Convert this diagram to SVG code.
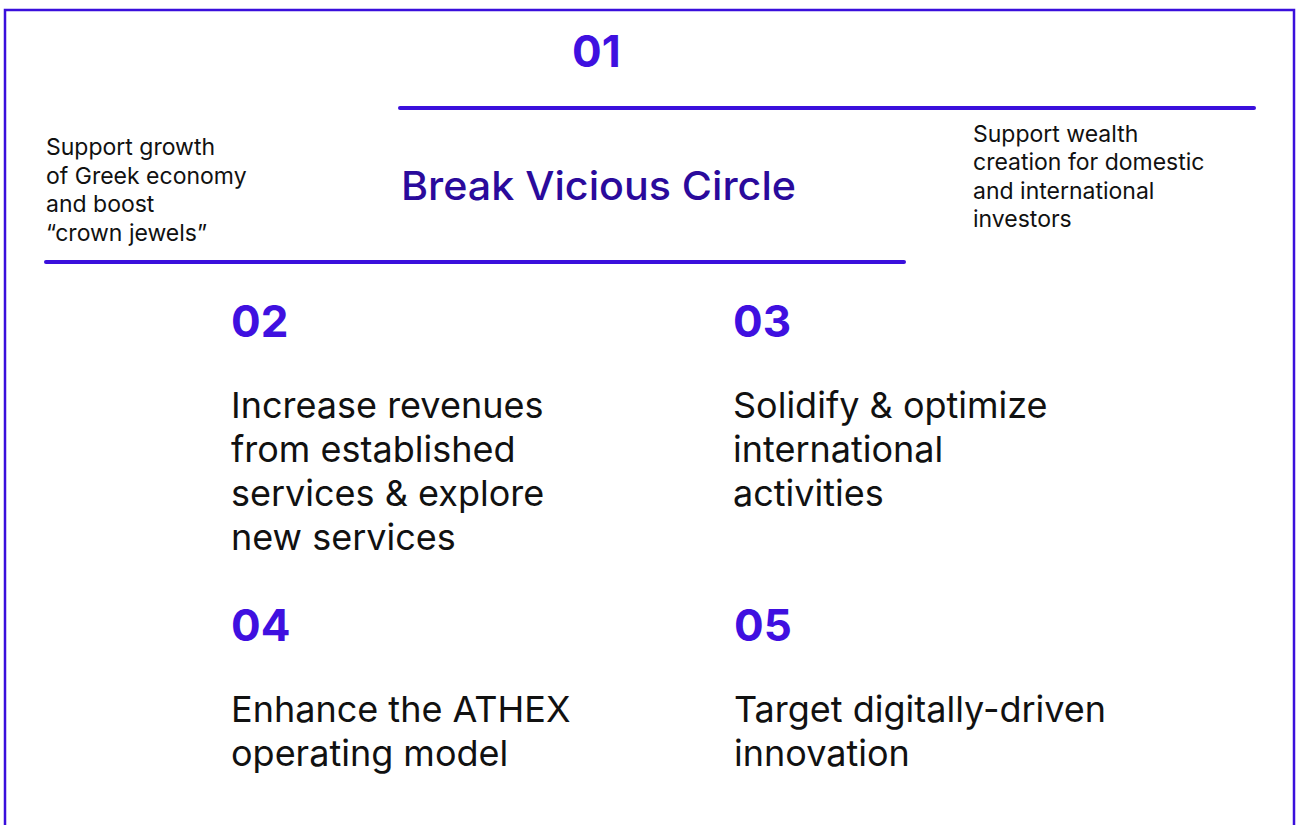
<svg xmlns="http://www.w3.org/2000/svg" width="1296" height="825" viewBox="0 0 1296 825">
<style>
  .frame{fill:none;stroke:#3a0fdc;stroke-width:2.5}
  .rule{stroke:#3a0fdc;stroke-width:4;stroke-linecap:round}
  .num{font-family:Inter,"Noto Sans",sans-serif;font-weight:700;fill:#3f10e0;font-size:44px}
  .title{font-family:Inter,"Noto Sans",sans-serif;font-weight:500;fill:#2a0a9c;font-size:40px}
  .small{font-family:Inter,"Noto Sans",sans-serif;font-weight:400;fill:#111;font-size:23px}
  .body{font-family:Inter,"Noto Sans",sans-serif;font-weight:400;fill:#111;font-size:36px}
</style>
<rect width="1296" height="825" fill="#ffffff"/>
<rect class="frame" x="5" y="10" width="1289" height="830"/>
<g id="connectors">
  <line class="rule" x1="400" y1="108" x2="1254" y2="108"/>
  <line class="rule" x1="46" y1="262" x2="904" y2="262"/>
</g>
<g id="node-01">
  <text class="num" x="572" y="67">01</text>
  <text class="title" x="401" y="200" textLength="395" lengthAdjust="spacingAndGlyphs">Break Vicious Circle</text>
</g>
<g id="note-left">
  <text class="small" x="46" y="155">Support growth</text>
  <text class="small" x="46" y="184">of Greek economy</text>
  <text class="small" x="46" y="212">and boost</text>
  <text class="small" x="46" y="241">“crown jewels”</text>
</g>
<g id="note-right">
  <text class="small" x="973" y="142">Support wealth</text>
  <text class="small" x="973" y="170">creation for domestic</text>
  <text class="small" x="973" y="199">and international</text>
  <text class="small" x="973" y="227">investors</text>
</g>
<g id="node-02">
  <text class="num" x="231" y="337">02</text>
  <text class="body" x="231" y="418">Increase revenues</text>
  <text class="body" x="231" y="462">from established</text>
  <text class="body" x="231" y="506">services &amp; explore</text>
  <text class="body" x="231" y="550">new services</text>
</g>
<g id="node-03">
  <text class="num" x="733" y="337">03</text>
  <text class="body" x="733" y="418">Solidify &amp; optimize</text>
  <text class="body" x="733" y="462">international</text>
  <text class="body" x="733" y="506">activities</text>
</g>
<g id="node-04">
  <text class="num" x="231" y="641">04</text>
  <text class="body" x="231" y="722">Enhance the ATHEX</text>
  <text class="body" x="231" y="766">operating model</text>
</g>
<g id="node-05">
  <text class="num" x="734" y="641">05</text>
  <text class="body" x="734" y="722">Target digitally-driven</text>
  <text class="body" x="734" y="766">innovation</text>
</g>
</svg>
